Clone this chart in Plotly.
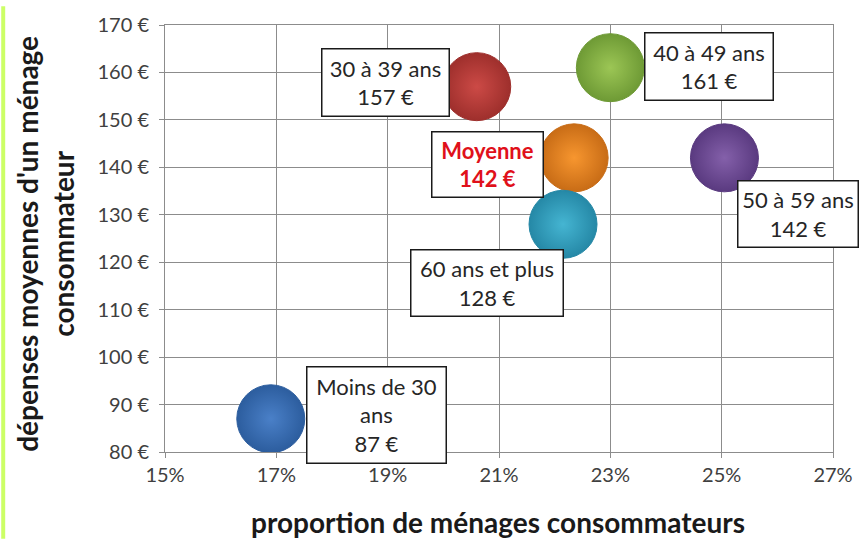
import plotly.graph_objects as go

# Data
groupes = ["Moins de 30 ans", "30 à 39 ans", "40 à 49 ans", "Moyenne", "60 ans et plus", "50 à 59 ans"]
proportion = [0.169, 0.206, 0.230, 0.2235, 0.2215, 0.2505]
depenses = [87, 157, 161, 142, 128, 142]
couleurs = ["#4a80c8", "#cc4a46", "#9cc655", "#f7962f", "#45b5d2", "#8460aa"]
bords = ["#2c5d9e", "#9e2f2c", "#6e9a35", "#c86c16", "#2588a6", "#5a3a80"]

# label texts and label anchor positions (in data units)
label_texts = ["Moins de 30<br>ans<br>87 €", "30 à 39 ans<br>157 €", "40 à 49 ans<br>161 €",
               "<b>Moyenne<br>142 €</b>", "60 ans et plus<br>128 €", "50 à 59 ans<br>142 €"]
label_x = [0.188, 0.1896, 0.2477, 0.2079, 0.2078, 0.2637]
label_y = [87.9, 157.9, 161.2, 140.7, 115.7, 130.1]
label_w = [141, 129, 130, 113, 154, 122]
label_h = [98, 69, 69, 67, 68, 68]
label_col = ["#262626", "#262626", "#262626", "#e0101a", "#262626", "#262626"]

x_ticks = [0.15, 0.17, 0.19, 0.21, 0.23, 0.25, 0.27]
x_ticklabels = ["15%", "17%", "19%", "21%", "23%", "25%", "27%"]
y_ticks = [80, 90, 100, 110, 120, 130, 140, 150, 160, 170]
y_ticklabels = ["80 €", "90 €", "100 €", "110 €", "120 €", "130 €", "140 €", "150 €", "160 €", "170 €"]

x_title = "<b>proportion de ménages consommateurs</b>"
y_title = "<b>dépenses moyennes d'un ménage<br>consommateur</b>"

L, R, T, B = 165, 27, 19, 88
PW, PH = 865 - L - R, 540 - T - B

fig = go.Figure()
for g, xv, yv, c, b in zip(groupes, proportion, depenses, couleurs, bords):
    fig.add_trace(go.Scatter(
        x=[xv], y=[yv], mode="markers", name=g,
        marker=dict(size=68, color=b,
                    gradient=dict(type="radial", color=c),
                    line=dict(width=1, color=b)),
        showlegend=False, hoverinfo="skip"))

for t, xv, yv, w, h, col in zip(label_texts, label_x, label_y, label_w, label_h, label_col):
    fig.add_annotation(x=xv, y=yv, xref="x", yref="y", text=t, showarrow=False,
                       font=dict(family="Lato", size=22, color=col),
                       bgcolor="white", bordercolor="#1a1a1a", borderwidth=1.5,
                       borderpad=0, width=w - 3, height=h - 3, align="center", valign="middle")

# axis titles
fig.add_annotation(xref="paper", yref="paper", x=(500 - L) / PW, y=-(523 - T - PH) / PH,
                   text=x_title, showarrow=False, xanchor="center", yanchor="middle",
                   font=dict(family="Lato", size=28, color="#1a1a1a"))
fig.add_annotation(xref="paper", yref="paper", x=(44 - L) / PW, y=(PH - (241 - T)) / PH,
                   text=y_title, showarrow=False, xanchor="center", yanchor="middle",
                   textangle=-90, font=dict(family="Lato", size=28, color="#1a1a1a"))

fig.update_layout(
    width=865, height=540,
    margin=dict(l=L, r=R, t=T, b=B),
    paper_bgcolor="white", plot_bgcolor="white",
    font=dict(family="Lato", color="#404040"),
    xaxis=dict(range=[0.15, 0.27], tickmode="array", tickvals=x_ticks, ticktext=x_ticklabels,
               showgrid=True, gridcolor="#8c8c8c", gridwidth=1,
               showline=True, linecolor="#8c8c8c", mirror=True,
               ticks="outside", ticklen=5, tickcolor="#8c8c8c",
               tickfont=dict(size=20, color="#404040"), zeroline=False),
    yaxis=dict(range=[80, 170], tickmode="array", tickvals=y_ticks, ticktext=y_ticklabels,
               showgrid=True, gridcolor="#8c8c8c", gridwidth=1,
               showline=True, linecolor="#8c8c8c", mirror=True,
               ticks="outside", ticklen=5, tickcolor="#8c8c8c", ticklabelstandoff=6,
               tickfont=dict(size=20, color="#404040"), zeroline=False),
    shapes=[dict(type="rect", xref="paper", yref="paper",
                 x0=-L / PW, x1=-(L - 4) / PW, y0=-B / PH, y1=1 + T / PH,
                 fillcolor="#ccff66", line=dict(width=0))],
)

fig.write_html("out.html", config={"displayModeBar": False},
               post_script="document.body.style.margin='0';document.body.style.overflow='hidden';")
